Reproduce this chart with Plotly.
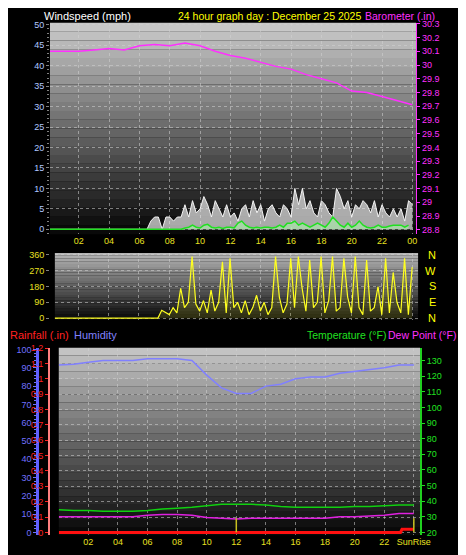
import plotly.graph_objects as go

W, H = 466, 555

# ---- data ----
hours = list(range(25))
quarters = [i / 4 for i in range(97)]

wind_gust = [0] * 27 + [2] + [
    3, 3, 0, 3, 3, 2, 3, 3, 6, 3, 7, 4, 5, 8, 6, 3, 7, 5, 3, 6, 3, 4, 2, 5,
    6, 3, 7, 4, 6, 2, 5, 6, 4, 3, 6, 5, 3, 10, 6, 10, 5, 7, 4, 3, 7, 6, 4, 3,
    10, 8, 5, 7, 3, 6, 5, 7, 6, 4, 7, 3, 6, 4, 3, 5, 3, 5, 2, 7, 6]
wind_avg = [0] * 32 + [
    0, 0, 0, 0, 0.3, 0.5, 1, 0.5, 0.3, 1, 1.2, 0.5, 0.3, 0.5, 0.2, 0.5,
    0.5, 0.3, 1.5, 2, 1, 0.5, 0.3, 0.5, 0.3, 0.5, 0.5, 0.3, 0.5, 1, 0.5, 1.5,
    1.5, 2, 1, 1.5, 1, 0.5, 1, 1.5, 1, 0.5, 1.5, 3, 2, 1, 0.5, 1.5, 0.5,
    1, 2, 1, 0.5, 0.3, 0.5, 1, 0.5, 0.5, 0.8, 1, 1, 1, 0.5, 1]
wind_dir = [0] * 30 + [
    45, 30, 20, 60, 30, 170, 60, 90, 350, 80, 40, 100, 30, 160, 40, 90,
    320, 30, 340, 60, 90, 30, 100, 20, 60, 130, 40, 90, 20, 60, 350, 120,
    30, 80, 340, 60, 350, 170, 40, 330, 60, 90, 350, 30, 100, 350, 40, 60,
    340, 120, 30, 350, 60, 20, 330, 40, 60, 180, 20, 340, 30, 260, 90, 30,
    340, 20, 290, 60, 350, 20]
barometer = [30.10, 30.10, 30.10, 30.11, 30.12, 30.11, 30.14, 30.15, 30.14,
             30.16, 30.14, 30.10, 30.07, 30.05, 30.02, 29.99, 29.97, 29.93,
             29.90, 29.87, 29.81, 29.80, 29.77, 29.74, 29.71]
humidity = [91.5, 92, 93, 94, 94, 94, 95, 95, 95, 94, 86, 79, 76, 76, 80, 81,
            84, 85, 85, 87, 88, 89, 90, 91.5, 91.5]
temperature = [34.5, 34, 34, 33.5, 33.5, 33.5, 34, 35, 35.5, 36, 37, 38, 38,
               38, 37.5, 36.5, 36, 36, 36, 36, 36.5, 36.5, 37, 37.5, 37.5]
dew_point = [30, 30, 30, 30, 30, 30, 31, 31.5, 31.5, 31, 29.5, 29, 28.5, 29,
             29, 29, 29, 29, 29, 30, 30, 30.5, 31, 32, 32]
rain_hours = [0, 23.1, 23.2, 24]
rainfall = [0, 0, 0.02, 0.02]
sun_hours = [12, 24]

tick_hours = list(range(2, 25, 2))
tick_text = ["02", "04", "06", "08", "10", "12", "14", "16", "18", "20", "22", "00"]


def px(x):
    return x / W


def py(y):
    return 1 - y / H


FONT = "Liberation Sans, Arial"
tickf = dict(family=FONT, size=9)
grid = dict(showgrid=True, gridcolor="rgba(210,210,210,0.55)", griddash="dot", gridwidth=1, zeroline=False)

fig = go.Figure()

# panel 1: wind + barometer
fig.add_trace(go.Scatter(x=quarters, y=wind_gust, mode="lines", line=dict(color="#f4f4f4", width=1),
                         fill="tozeroy", fillcolor="rgba(235,235,235,0.7)", xaxis="x", yaxis="y"))
fig.add_trace(go.Scatter(x=quarters, y=wind_avg, mode="lines", line=dict(color="#20e020", width=1.5),
                         fill="tozeroy", fillcolor="rgba(170,240,170,0.6)", xaxis="x", yaxis="y"))
fig.add_trace(go.Scatter(x=hours, y=barometer, mode="lines", line=dict(color="#ff30ff", width=1.5),
                         xaxis="x", yaxis="y2"))
# panel 2: direction
fig.add_trace(go.Scatter(x=quarters, y=wind_dir, mode="lines", line=dict(color="#ffff20", width=1.2),
                         fill="tozeroy", fillcolor="rgba(200,200,40,0.18)", xaxis="x2", yaxis="y3"))
# panel 3
fig.add_trace(go.Scatter(x=hours, y=humidity, mode="lines", line=dict(color="#8080ff", width=1.5),
                         xaxis="x3", yaxis="y5"))
fig.add_trace(go.Scatter(x=hours, y=temperature, mode="lines", line=dict(color="#10d010", width=1.5),
                         xaxis="x3", yaxis="y6"))
fig.add_trace(go.Scatter(x=hours, y=dew_point, mode="lines", line=dict(color="#e020e0", width=1.5),
                         xaxis="x3", yaxis="y6"))
for h in sun_hours:
    fig.add_trace(go.Scatter(x=[h, h], y=[20, 29], mode="lines", line=dict(color="#c8c020", width=1.5),
                             xaxis="x3", yaxis="y6"))
fig.add_trace(go.Scatter(x=rain_hours, y=rainfall, mode="lines", line=dict(color="#ff1010", width=3),
                         xaxis="x3", yaxis="y4"))

# background gradients
panels = [("x", "y", 205, 5), ("x2", "y3", 185, 5), ("x3", "y4", 200, 5)]
shapes = []
n = 24
for xr, yr, top, bot in panels:
    for i in range(n):
        g = int(bot + (top - bot) * (i + 0.5) / n)
        shapes.append(dict(type="rect", xref=xr + " domain", yref=yr + " domain",
                           x0=0, x1=1, y0=i / n, y1=(i + 1) / n, line_width=0,
                           fillcolor=f"rgb({g},{g},{g})", layer="below"))

xcommon = dict(tickvals=tick_hours, ticktext=tick_text, tickfont=dict(tickf, color="#e8e020"),
               ticks="", showline=False, **grid)

fig.update_layout(
    width=W, height=H, margin=dict(l=0, r=0, t=0, b=0),
    paper_bgcolor="black", plot_bgcolor="black", showlegend=False,
    font=dict(family=FONT),
    shapes=shapes,
    xaxis=dict(domain=[px(43), px(418)], range=[0.1, 24.25], anchor="y", **xcommon),
    yaxis=dict(domain=[py(225), py(11)], range=[-1.2, 50.5], dtick=5, tickfont=dict(tickf, color="#b0c8ff"),
               ticks="outside", ticklen=3, tickcolor="#808080",
               minor=dict(ticks="outside", ticklen=2, tickcolor="#808080", dtick=1), **grid),
    yaxis2=dict(overlaying="y", side="right", range=[28.768, 30.307], dtick=0.1,
                tickfont=dict(tickf, color="#ff30ff"), ticks="outside", ticklen=3, tickcolor="#ff30ff",
                showline=True, linecolor="#ff30ff", showgrid=False, zeroline=False),
    xaxis2=dict(domain=[px(48), px(420)], range=[0.46, 24.39], anchor="y3", showticklabels=False,
                **{k: v for k, v in xcommon.items() if k not in ("tickfont",)}),
    yaxis3=dict(domain=[py(312), py(244)], range=[-11, 371], tickvals=[0, 90, 180, 270, 360],
                tickfont=dict(tickf, color="#e8e020"), ticks="outside", ticklen=3, tickcolor="#808080", **grid),
    xaxis3=dict(domain=[px(52), px(422)], range=[0, 24.42], anchor="y4",
                tickvals=tick_hours[:-1] + [24], ticktext=tick_text[:-1] + ["SunRise"],
                tickfont=dict(tickf, color="#e8e020"), ticks="", **grid),
    yaxis4=dict(range=[-0.019, 1.203], dtick=0.1, tickfont=dict(tickf, color="#ff2020"),
                ticks="outside", ticklen=3, tickcolor="#ff2020", showline=True, linecolor="#ff8080",
                linewidth=2, domain=[py(530), py(340)], **grid),
    yaxis5=dict(overlaying="y4", anchor="free", position=px(30), side="left", range=[-1.6, 101],
                dtick=10, tickfont=dict(tickf, color="#7070ff"), ticks="outside", ticklen=3,
                tickcolor="#7070ff", showline=True, linecolor="#6060ff", linewidth=3,
                minor=dict(ticks="outside", ticklen=2, tickcolor="#7070ff", dtick=2),
                showgrid=False, zeroline=False),
    yaxis6=dict(overlaying="y4", side="right", anchor="x3", range=[18.1, 138.2], dtick=10,
                tickfont=dict(tickf, color="#20e020"), ticks="outside", ticklen=3, tickcolor="#20e020",
                showline=True, linecolor="#20d020", linewidth=2, showgrid=False, zeroline=False),
)

ann = [
    ("Windspeed (mph)", 35, 4, "white", "left", 11),
    ("24 hour graph day : December 25 2025", 172, 4, "#ffff00", "left", 10.5),
    ("Barometer (.in)", 439, 4, "#ff30ff", "right", 10.5),
    ("Rainfall (.in)", 0, 327, "#ff2020", "left", 11),
    ("Humidity", 66, 327, "#8080ff", "left", 11),
    ("Temperature (°F)", 389, 327, "#20e020", "right", 10.5),
    ("Dew Point (°F)", 461, 327, "#ff30ff", "right", 10.5),
]
for text, x, y, c, anc, sz in ann:
    fig.add_annotation(text=text, x=px(x), y=py(y), xref="paper", yref="paper", showarrow=False,
                       xanchor=anc, yanchor="middle", font=dict(family=FONT, size=sz, color=c))
for lab, v in zip(["N", "W", "S", "E", "N"], [360, 270, 180, 90, 0]):
    fig.add_annotation(text=lab, x=px(440), y=v, xref="paper", yref="y3", showarrow=False,
                       font=dict(family=FONT, size=11, color="#ffff00"))

fig.write_html("out.html")
